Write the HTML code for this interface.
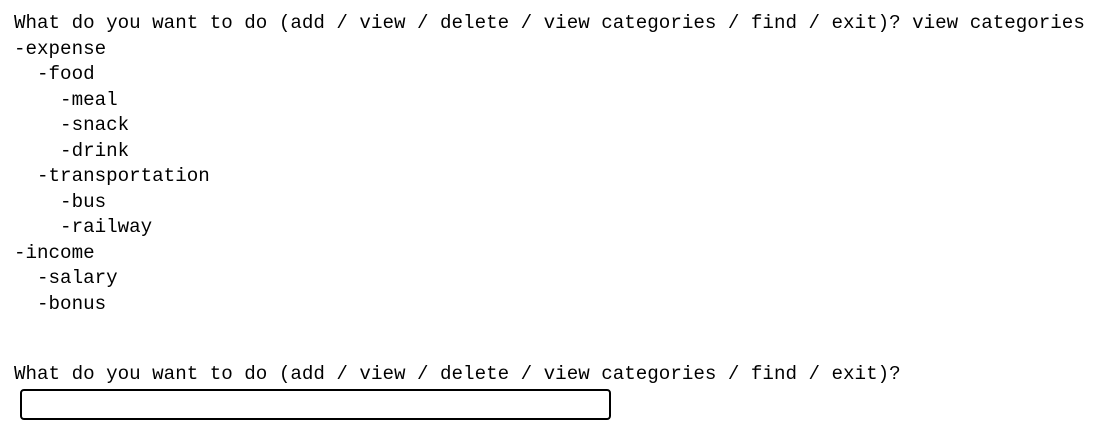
<!DOCTYPE html>
<html><head><meta charset="utf-8"><style>
html,body{margin:0;padding:0;background:#fff;width:1120px;height:427px;overflow:hidden}
pre{position:absolute;left:14px;margin:0;font-family:"Liberation Mono","DejaVu Sans Mono",monospace;font-size:19.2px;line-height:25.5px;color:#000}
.box{position:absolute;left:20px;top:389px;width:587px;height:27px;border:2px solid #000;border-radius:4px;box-sizing:content-box}
</style></head><body>
<pre style="top:11px">What do you want to do (add / view / delete / view categories / find / exit)? view categories
-expense
  -food
    -meal
    -snack
    -drink
  -transportation
    -bus
    -railway
-income
  -salary
  -bonus</pre>
<pre style="top:362px">What do you want to do (add / view / delete / view categories / find / exit)?</pre>
<div class="box"></div>
</body></html>
